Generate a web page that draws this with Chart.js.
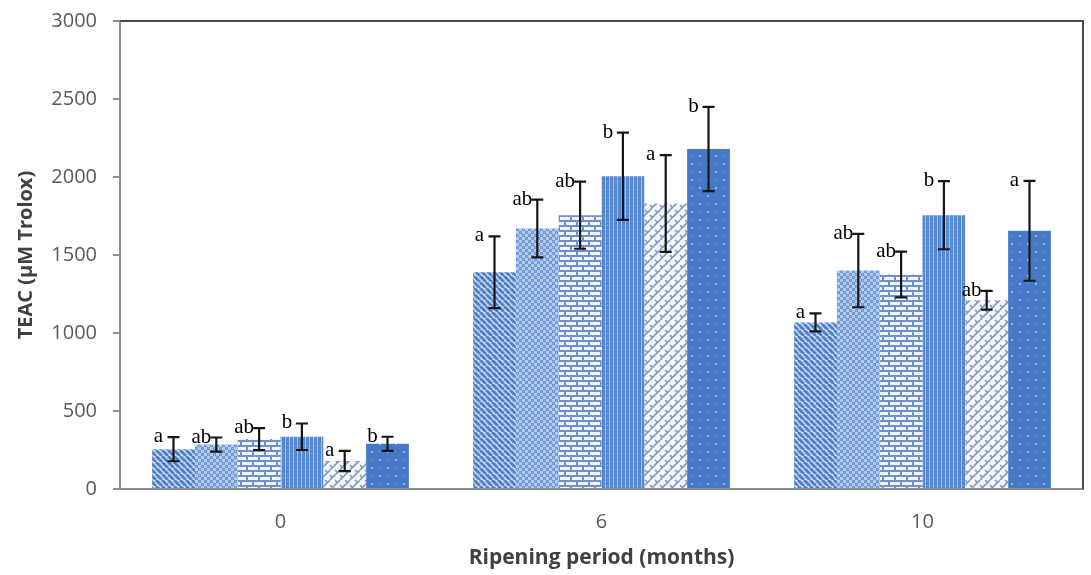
<!DOCTYPE html>
<html><head><meta charset="utf-8">
<script src="https://cdn.jsdelivr.net/npm/chart.js@4.4.0/dist/chart.umd.min.js"></script>
<style>html,body{margin:0;padding:0;background:#fff;}#wrap{width:1091px;height:575px;}</style>
</head><body><div id="wrap"><canvas id="c" width="1091" height="575"></canvas></div>
<script>
const categories = ['0', '6', '10'];
const yTicks = [0, 500, 1000, 1500, 2000, 2500, 3000];

const s1Values = [255, 1390, 1068];
const s1Errors = [77, 230, 58];
const s1Letters = ['a', 'a', 'a'];

const s2Values = [285, 1670, 1400];
const s2Errors = [45, 185, 235];
const s2Letters = ['ab', 'ab', 'ab'];

const s3Values = [320, 1755, 1375];
const s3Errors = [70, 215, 147];
const s3Letters = ['ab', 'ab', 'ab'];

const s4Values = [335, 2005, 1755];
const s4Errors = [85, 280, 218];
const s4Letters = ['b', 'b', 'b'];

const s5Values = [180, 1830, 1210];
const s5Errors = [65, 310, 60];
const s5Letters = ['a', 'a', 'ab'];

const s6Values = [290, 2180, 1655];
const s6Errors = [45, 270, 320];
const s6Letters = ['b', 'b', 'a'];

function tile(w, h, draw) {
  const c = document.createElement('canvas');
  c.width = w; c.height = h;
  const g = c.getContext('2d');
  draw(g, w, h);
  return document.getElementById('c').getContext('2d').createPattern(c, 'repeat');
}
const pDiag = tile(6, 6, (g, w, h) => {
  g.fillStyle = '#cddcf2'; g.fillRect(0, 0, w, h);
  g.strokeStyle = '#4f7fc4'; g.lineWidth = 2.8;
  for (const o of [-6, 0, 6]) { g.beginPath(); g.moveTo(o, 0); g.lineTo(o + 6, 6); g.stroke(); }
});
const pCheck = tile(6, 6, (g, w, h) => {
  g.fillStyle = '#b4caee'; g.fillRect(0, 0, w, h);
  g.fillStyle = '#6f98d6';
  g.fillRect(0, 0, 3, 3); g.fillRect(3, 3, 3, 3);
  g.fillStyle = '#93b3e3'; g.fillRect(1, 1, 1, 1); g.fillRect(4, 4, 1, 1);
});
const pBrick = tile(12, 10, (g, w, h) => {
  g.fillStyle = '#f3f6fc'; g.fillRect(0, 0, w, h);
  g.fillStyle = '#6e90cc';
  g.fillRect(0, 0, 12, 2); g.fillRect(0, 5, 12, 2);
  g.fillRect(0, 0, 2, 5); g.fillRect(6, 5, 2, 5);
});
const pVert = tile(4, 4, (g, w, h) => {
  g.fillStyle = '#5386cf'; g.fillRect(0, 0, w, h);
  g.fillStyle = '#a6c2ec'; g.fillRect(1, 0, 1, 4);
  g.fillStyle = '#78a0da'; g.fillRect(3, 1, 1, 1);
});
const pDiagBrick = tile(10, 10, (g, w, h) => {
  g.fillStyle = '#f4f7fc'; g.fillRect(0, 0, w, h);
  g.strokeStyle = '#8198c0'; g.lineWidth = 1.6;
  for (const o of [-10, 0, 10]) { g.beginPath(); g.moveTo(o, 10); g.lineTo(o + 10, 0); g.stroke(); }
  g.beginPath(); g.moveTo(0, 5); g.lineTo(2.5, 7.5); g.stroke();
  g.beginPath(); g.moveTo(5, 0); g.lineTo(7.5, 2.5); g.stroke();
  g.beginPath(); g.moveTo(5, 10); g.lineTo(7.5, 12.5); g.stroke();
  g.beginPath(); g.moveTo(10, 5); g.lineTo(12.5, 7.5); g.stroke();
});
const pDots = tile(16, 16, (g, w, h) => {
  g.fillStyle = '#4879c6'; g.fillRect(0, 0, w, h);
  g.fillStyle = '#a8c6ef';
  g.fillRect(3, 3, 1.8, 1.8); g.fillRect(11, 11, 1.8, 1.8);
  g.fillStyle = '#6f98d6';
  g.fillRect(11, 3, 1.2, 1.2); g.fillRect(3, 11, 1.2, 1.2);
});

const series = [
  { v: s1Values, e: s1Errors, l: s1Letters, bg: pDiag },
  { v: s2Values, e: s2Errors, l: s2Letters, bg: pCheck },
  { v: s3Values, e: s3Errors, l: s3Letters, bg: pBrick },
  { v: s4Values, e: s4Errors, l: s4Letters, bg: pVert },
  { v: s5Values, e: s5Errors, l: s5Letters, bg: pDiagBrick },
  { v: s6Values, e: s6Errors, l: s6Letters, bg: pDots }
];

const errorPlugin = {
  id: 'errs',
  afterDatasetsDraw(chart) {
    const ctx = chart.ctx, y = chart.scales.y;
    ctx.save();
    chart.data.datasets.forEach((ds, di) => {
      const meta = chart.getDatasetMeta(di);
      meta.data.forEach((bar, i) => {
        const v = ds.data[i], e = series[di].e[i];
        const top = y.getPixelForValue(v + e), bot = y.getPixelForValue(v - e);
        ctx.strokeStyle = '#161616'; ctx.lineWidth = 2.2;
        ctx.beginPath();
        ctx.moveTo(bar.x, top); ctx.lineTo(bar.x, bot);
        ctx.moveTo(bar.x - 6, top); ctx.lineTo(bar.x + 6, top);
        ctx.moveTo(bar.x - 6, bot); ctx.lineTo(bar.x + 6, bot);
        ctx.stroke();
        ctx.fillStyle = '#000';
        ctx.font = '21px "Liberation Serif"';
        ctx.textAlign = 'center'; ctx.textBaseline = 'alphabetic';
        ctx.fillText(series[di].l[i], bar.x - 15, top + 5);
      });
    });
    ctx.restore();
  }
};
const framePlugin = {
  id: 'frame',
  afterDraw(chart) {
    const a = chart.chartArea, ctx = chart.ctx;
    ctx.save();
    ctx.strokeStyle = '#4a4a4a'; ctx.lineWidth = 2;
    ctx.beginPath();
    ctx.moveTo(a.left, a.top); ctx.lineTo(a.right, a.top); ctx.lineTo(a.right, a.bottom);
    ctx.stroke();
    ctx.restore();
  }
};

new Chart(document.getElementById('c'), {
  type: 'bar',
  data: {
    labels: categories,
    datasets: series.map((s, i) => ({
      label: 'S' + (i + 1), data: s.v, backgroundColor: s.bg, borderWidth: 0,
      categoryPercentage: 0.8, barPercentage: 1.0
    }))
  },
  options: {
    responsive: false, animation: false, devicePixelRatio: 1,
    layout: { padding: { top: 21, right: 8, left: 0, bottom: 0 } },
    plugins: { legend: { display: false }, tooltip: { enabled: false } },
    scales: {
      x: {
        grid: { display: false, drawTicks: false },
        border: { color: '#8c8c8c', width: 2 },
        ticks: { color: '#595959', font: { family: 'Open Sans', size: 20 }, padding: 21 },
        title: { display: true, text: 'Ripening period (months)', color: '#404040',
          font: { family: 'Open Sans', size: 21, weight: 'bold' }, padding: { top: 0, bottom: 4 } },
        afterFit(s) { s.height = 86; }
      },
      y: {
        min: 0, max: 3000,
        afterBuildTicks(s) { s.ticks = yTicks.map(v => ({ value: v })); },
        grid: { drawOnChartArea: false, drawTicks: true, tickLength: 7, color: '#8c8c8c', lineWidth: 2 },
        border: { color: '#8c8c8c', width: 2 },
        ticks: { color: '#595959', font: { family: 'Open Sans', size: 20, lineHeight: 0.4 }, padding: 16,
          callback: v => String(v) },
        title: { display: true, text: 'TEAC (µM Trolox)', color: '#404040',
          font: { family: 'Open Sans', size: 20, weight: 'bold' }, padding: { top: 14, bottom: 0 } },
        afterFit(s) { s.width = 120; }
      }
    }
  },
  plugins: [errorPlugin, framePlugin]
});
</script></body></html>
